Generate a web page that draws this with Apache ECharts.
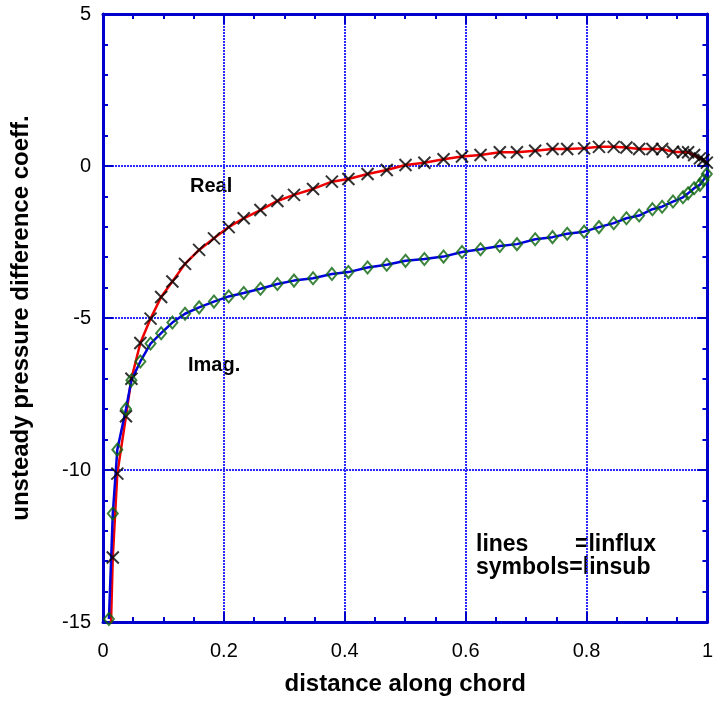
<!DOCTYPE html>
<html>
<head>
<meta charset="utf-8">
<script src="https://cdn.jsdelivr.net/npm/echarts@6/dist/echarts.min.js"></script>
<style>html,body{margin:0;padding:0;background:#fff}#c{width:716px;height:701px}</style>
</head>
<body>
<div id="c"></div>
<script>
// chordwise stations (shared by both series)
var chordX = [0.0098, 0.0162, 0.0237, 0.038, 0.047, 0.0618, 0.0787, 0.0962, 0.1148, 0.1357,
  0.159, 0.1836, 0.208, 0.2328, 0.2605, 0.2885, 0.316, 0.3475, 0.3787, 0.406,
  0.4377, 0.4694, 0.5005, 0.5317, 0.5634, 0.594, 0.6246, 0.6565, 0.6848, 0.715,
  0.7437, 0.768, 0.796, 0.8205, 0.845, 0.866, 0.887, 0.909, 0.925, 0.943,
  0.9595, 0.968, 0.978, 0.9875, 0.9935, 0.999];
// real part
var realY = [-17.5, -12.88, -10.12, -8.23, -7.0, -5.82, -5.02, -4.31, -3.80, -3.22,
  -2.76, -2.38, -2.01, -1.72, -1.45, -1.15, -0.95, -0.755, -0.515, -0.427,
  -0.263, -0.131, 0.033, 0.108, 0.22, 0.31, 0.36, 0.45, 0.45, 0.50,
  0.56, 0.56, 0.58, 0.63, 0.63, 0.61, 0.56, 0.56, 0.56, 0.47,
  0.45, 0.45, 0.36, 0.25, 0.2, 0.11];
// imaginary part
var imagY = [-14.9, -11.43, -9.33, -7.99, -7.05, -6.43, -5.84, -5.5, -5.15, -4.86,
  -4.65, -4.46, -4.29, -4.18, -4.04, -3.88, -3.77, -3.69, -3.55, -3.49,
  -3.34, -3.25, -3.12, -3.06, -2.98, -2.83, -2.74, -2.63, -2.57, -2.41,
  -2.34, -2.23, -2.16, -2.01, -1.88, -1.72, -1.63, -1.42, -1.34, -1.17,
  -1.03, -0.90, -0.73, -0.62, -0.46, -0.26];
var xTicks = [0, 0.2, 0.4, 0.6, 0.8, 1];
var yTicks = [-15, -10, -5, 0, 5];

function pairs(xs, ys) { return xs.map(function (x, i) { return [x, ys[i]]; }); }
var realData = pairs(chordX, realY);
var imagData = pairs(chordX, imagY);

var FONT = "'Liberation Sans', Arial, Helvetica, sans-serif";
var BORDER = '#0000cc';
var GRIDC = '#2a2aff';

function xAx(pos, main) {
  return {
    type: 'value', position: pos, min: xTicks[0], max: xTicks[xTicks.length - 1], interval: 0.2,
    axisLine: { show: true, onZero: false, lineStyle: { color: BORDER, width: 3 } },
    axisTick: { show: true, inside: true, length: 10, lineStyle: { color: BORDER, width: 2 } },
    minorTick: { show: true, splitNumber: 4, length: 5, lineStyle: { color: BORDER, width: 2 } },
    axisLabel: { show: main, color: '#000', fontSize: 20, fontFamily: FONT, margin: 19 },
    splitLine: { show: main, lineStyle: { color: GRIDC, width: 2, type: [2, 1] } },
    name: main ? 'distance along chord' : '', nameLocation: 'middle', nameGap: 50,
    nameTextStyle: { fontSize: 24, fontWeight: 'bold', fontFamily: FONT, color: '#000' }
  };
}
function yAx(pos, main) {
  return {
    type: 'value', position: pos, min: yTicks[0], max: yTicks[yTicks.length - 1], interval: 5,
    axisLine: { show: true, onZero: false, lineStyle: { color: BORDER, width: 3 } },
    axisTick: { show: true, inside: true, length: 10, lineStyle: { color: BORDER, width: 2 } },
    minorTick: { show: true, splitNumber: 5, length: 5, lineStyle: { color: BORDER, width: 2 } },
    axisLabel: { show: main, color: '#000', fontSize: 20, fontFamily: FONT, margin: 12 },
    splitLine: { show: main, lineStyle: { color: GRIDC, width: 2, type: [2, 1] } },
    name: main ? 'unsteady pressure difference coeff.' : '', nameLocation: 'middle', nameGap: 70, nameRotate: 90,
    nameTextStyle: { fontSize: 24, fontWeight: 'bold', fontFamily: FONT, color: '#000' }
  };
}

var chart = echarts.init(document.getElementById('c'), null, { renderer: 'canvas' });
chart.setOption({
  animation: false,
  backgroundColor: '#fff',
  grid: { left: 103, right: 3, top: 14, bottom: 78, containLabel: false },
  xAxis: [xAx('bottom', true), xAx('top', false)],
  yAxis: [yAx('left', true), yAx('right', false)],
  series: [
    { type: 'line', data: realData, showSymbol: false, symbol: 'none', clip: true,
      lineStyle: { color: '#ee0000', width: 2.5 }, z: 2 },
    { type: 'line', data: imagData, showSymbol: false, symbol: 'none', clip: true,
      lineStyle: { color: '#0000dd', width: 2.5 }, z: 2 },
    { type: 'scatter', data: realData, clip: true, symbol: 'path://M0,0L10,10M10,0L0,10', symbolSize: 12,
      itemStyle: { color: 'rgba(0,0,0,0)', borderColor: '#000', borderWidth: 2 }, z: 3 },
    { type: 'scatter', data: imagData, clip: true, symbol: 'diamond', symbolSize: [10, 12],
      itemStyle: { color: 'rgba(255,255,255,0)', borderColor: '#0b650b', borderWidth: 2 }, z: 4 }
  ],
  graphic: [
    { type: 'text', left: 190, top: 176, style: { text: 'Real', font: 'bold 20px ' + FONT, fill: '#000' } },
    { type: 'text', left: 188, top: 355, style: { text: 'Imag.', font: 'bold 20px ' + FONT, fill: '#000' } },
    { type: 'text', left: 476, top: 533, style: { text: 'lines', font: 'bold 23px ' + FONT, fill: '#000' } },
    { type: 'text', left: 575, top: 533, style: { text: '=linflux', font: 'bold 23px ' + FONT, fill: '#000' } },
    { type: 'text', left: 476, top: 556, style: { text: 'symbols=linsub', font: 'bold 23px ' + FONT, fill: '#000' } }
  ]
});
</script>
</body>
</html>
